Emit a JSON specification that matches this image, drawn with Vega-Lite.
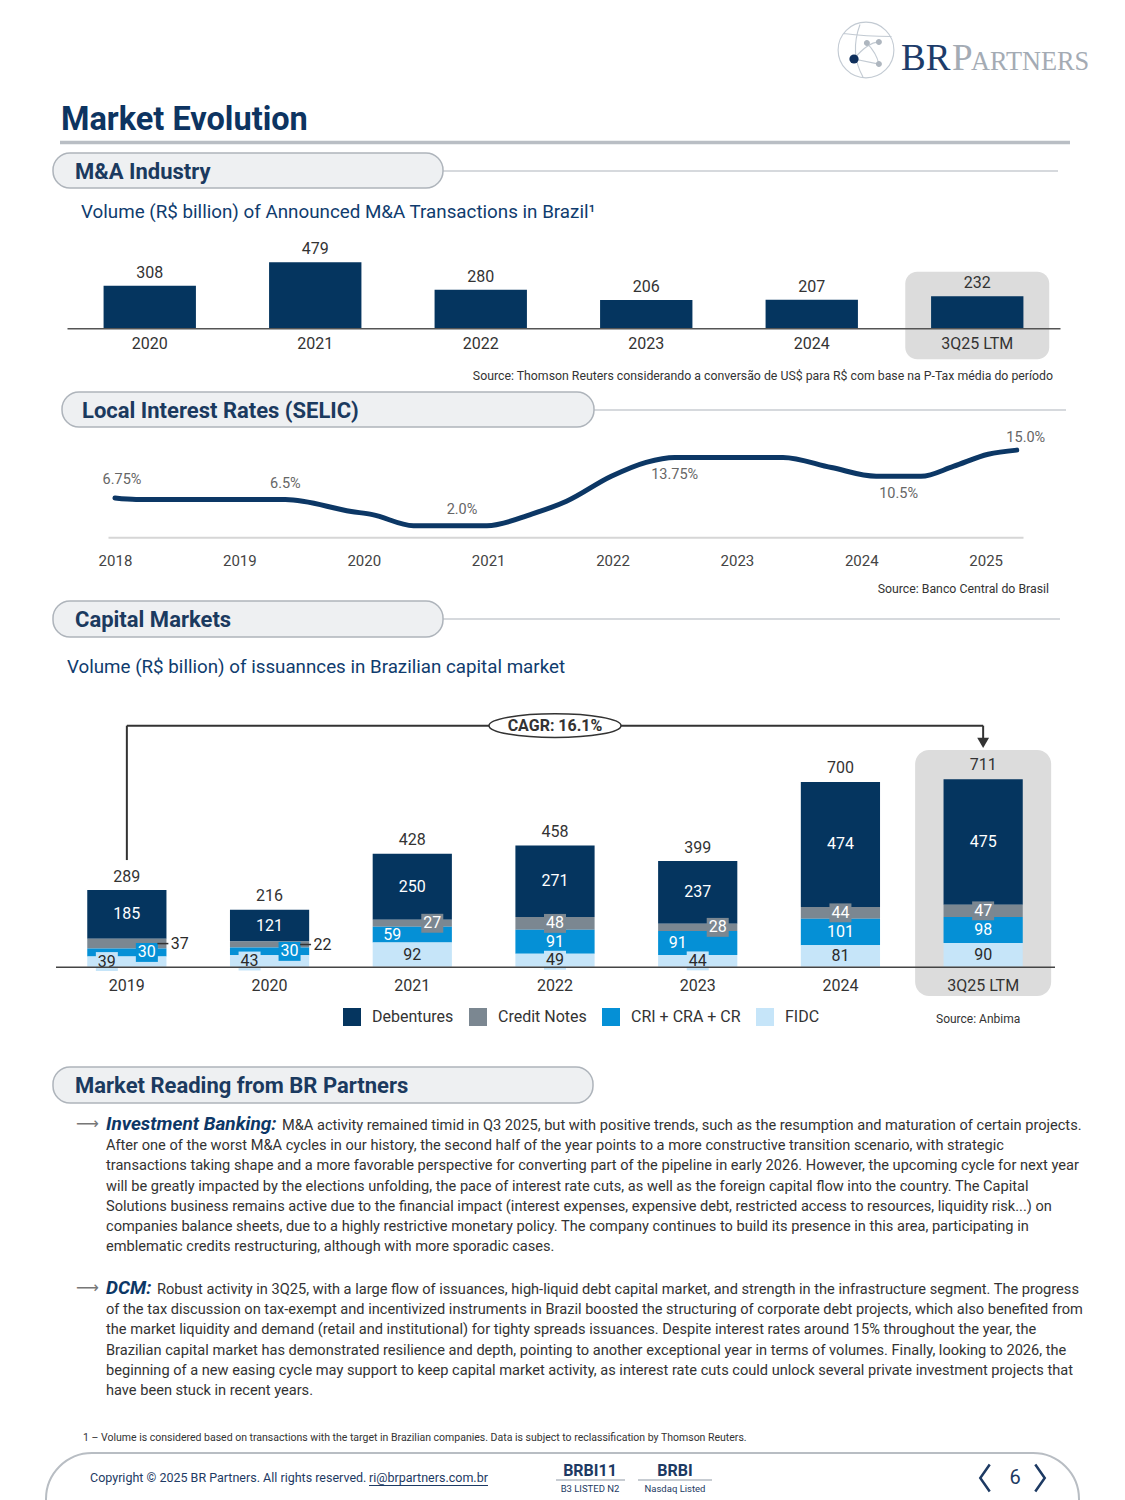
{
  "$schema": "https://vega.github.io/schema/vega-lite/v6.json",
  "width": 1125,
  "height": 1500,
  "autosize": {"type": "none"},
  "padding": 0,
  "background": "#ffffff",
  "config": {
    "view": {"stroke": null},
    "font": "Roboto",
    "text": {"font": "Roboto"},
    "axis": {"labelFont": "Roboto"},
    "legend": {"labelFont": "Roboto"}
  },
  "datasets": {
    "ma": [
      {"period": "2020", "volume": 308},
      {"period": "2021", "volume": 479},
      {"period": "2022", "volume": 280},
      {"period": "2023", "volume": 206},
      {"period": "2024", "volume": 207},
      {"period": "3Q25 LTM", "volume": 232}
    ],
    "selic": [
      {"year": 2018.0, "rate": 6.75, "label": "6.75%"},
      {"year": 2018.17, "rate": 6.5},
      {"year": 2019.37, "rate": 6.5, "label": "6.5%"},
      {"year": 2019.9, "rate": 4.45},
      {"year": 2020.07, "rate": 3.9},
      {"year": 2020.4, "rate": 2.0},
      {"year": 2020.79, "rate": 2.0, "label": "2.0%"},
      {"year": 2020.99, "rate": 2.0},
      {"year": 2021.35, "rate": 4.0},
      {"year": 2021.63, "rate": 6.2},
      {"year": 2021.99, "rate": 10.5},
      {"year": 2022.27, "rate": 12.9},
      {"year": 2022.5, "rate": 13.75, "label": "13.75%"},
      {"year": 2023.37, "rate": 13.75},
      {"year": 2023.76, "rate": 12.0},
      {"year": 2024.12, "rate": 10.5},
      {"year": 2024.3, "rate": 10.5, "label": "10.5%"},
      {"year": 2024.48, "rate": 10.5},
      {"year": 2024.74, "rate": 12.2},
      {"year": 2025.02, "rate": 14.3},
      {"year": 2025.25, "rate": 15.0, "label": "15.0%"}
    ],
    "series": [
      {"type": "FIDC", "rank": 0},
      {"type": "CRI + CRA + CR", "rank": 1},
      {"type": "Credit Notes", "rank": 2},
      {"type": "Debentures", "rank": 3}
    ],
    "cap": [
      {"period": "2019", "type": "Debentures", "value": 185},
      {"period": "2019", "type": "Credit Notes", "value": 37},
      {"period": "2019", "type": "CRI + CRA + CR", "value": 30},
      {"period": "2019", "type": "FIDC", "value": 39},
      {"period": "2020", "type": "Debentures", "value": 121},
      {"period": "2020", "type": "Credit Notes", "value": 22},
      {"period": "2020", "type": "CRI + CRA + CR", "value": 30},
      {"period": "2020", "type": "FIDC", "value": 43},
      {"period": "2021", "type": "Debentures", "value": 250},
      {"period": "2021", "type": "Credit Notes", "value": 27},
      {"period": "2021", "type": "CRI + CRA + CR", "value": 59},
      {"period": "2021", "type": "FIDC", "value": 92},
      {"period": "2022", "type": "Debentures", "value": 271},
      {"period": "2022", "type": "Credit Notes", "value": 48},
      {"period": "2022", "type": "CRI + CRA + CR", "value": 91},
      {"period": "2022", "type": "FIDC", "value": 49},
      {"period": "2023", "type": "Debentures", "value": 237},
      {"period": "2023", "type": "Credit Notes", "value": 28},
      {"period": "2023", "type": "CRI + CRA + CR", "value": 91},
      {"period": "2023", "type": "FIDC", "value": 44},
      {"period": "2024", "type": "Debentures", "value": 474},
      {"period": "2024", "type": "Credit Notes", "value": 44},
      {"period": "2024", "type": "CRI + CRA + CR", "value": 101},
      {"period": "2024", "type": "FIDC", "value": 81},
      {"period": "3Q25 LTM", "type": "Debentures", "value": 475},
      {"period": "3Q25 LTM", "type": "Credit Notes", "value": 47},
      {"period": "3Q25 LTM", "type": "CRI + CRA + CR", "value": 98},
      {"period": "3Q25 LTM", "type": "FIDC", "value": 90}
    ],
    "capTotals": [
      {"period": "2019", "total": 289},
      {"period": "2020", "total": 216},
      {"period": "2021", "total": 428},
      {"period": "2022", "total": 458},
      {"period": "2023", "total": 399},
      {"period": "2024", "total": 700},
      {"period": "3Q25 LTM", "total": 711}
    ],
    "notes": [
      {"block": "ib", "line": 1, "text": "M&A activity remained timid in Q3 2025, but with positive trends, such as the resumption and maturation of certain projects."},
      {"block": "ib", "line": 2, "text": "After one of the worst M&A cycles in our history, the second half of the year points to a more constructive transition scenario, with strategic"},
      {"block": "ib", "line": 3, "text": "transactions taking shape and a more favorable perspective for converting part of the pipeline in early 2026. However, the upcoming cycle for next year"},
      {"block": "ib", "line": 4, "text": "will be greatly impacted by the elections unfolding, the pace of interest rate cuts, as well as the foreign capital flow into the country. The Capital"},
      {"block": "ib", "line": 5, "text": "Solutions business remains active due to the financial impact (interest expenses, expensive debt, restricted access to resources, liquidity risk...) on"},
      {"block": "ib", "line": 6, "text": "companies balance sheets, due to a highly restrictive monetary policy. The company continues to build its presence in this area, participating in"},
      {"block": "ib", "line": 7, "text": "emblematic credits restructuring, although with more sporadic cases."},
      {"block": "dcm", "line": 1, "text": "Robust activity in 3Q25, with a large flow of issuances, high-liquid debt capital market, and strength in the infrastructure segment. The progress"},
      {"block": "dcm", "line": 2, "text": "of the tax discussion on tax-exempt and incentivized instruments in Brazil boosted the structuring of corporate debt projects, which also benefited from"},
      {"block": "dcm", "line": 3, "text": "the market liquidity and demand (retail and institutional) for tighty spreads issuances. Despite interest rates around 15% throughout the year, the"},
      {"block": "dcm", "line": 4, "text": "Brazilian capital market has demonstrated resilience and depth, pointing to another exceptional year in terms of volumes. Finally, looking to 2026, the"},
      {"block": "dcm", "line": 5, "text": "beginning of a new easing cycle may support to keep capital market activity, as interest rate cuts could unlock several private investment projects that"},
      {"block": "dcm", "line": 6, "text": "have been stuck in recent years."}
    ],
    "leads": [
      {"block": "ib", "line": 1, "text": "Investment Banking:"},
      {"block": "dcm", "line": 1, "text": "DCM:"}
    ]
  },
  "resolve": {"scale": {"x": "independent", "y": "independent", "color": "independent"}},
  "layer": [
    {
      "data": {"values": [{"text": "Market Evolution"}]},
      "layer": [
        {"mark": {"type": "rule", "color": "#b9bec4", "strokeWidth": 3.5},
         "encoding": {"x": {"value": 60}, "x2": {"value": 1070}, "y": {"value": 142.5}}},
        {"mark": {"type": "text", "align": "left", "baseline": "alphabetic", "fontSize": 32.5, "fontWeight": "bold", "color": "#0d3461"},
         "encoding": {"x": {"value": 61}, "y": {"value": 130}, "text": {"field": "text"}}}
      ]
    },
    {
      "data": {"values": [{"br": "BR", "p": "P", "rest": "ARTNERS"}]},
      "layer": [
        {"mark": {"type": "point", "shape": "M -0.93 0 A 0.93 0.93 0 1 1 0.93 0 A 0.93 0.93 0 1 1 -0.93 0 M -0.75 -0.55 Q 0 -0.45 0.85 -0.45 M -0.4 0.3 Q 0.05 -0.25 0.43 -0.27 M 0.03 -0.23 Q 0.35 0.1 0.43 0.47 M -0.4 0.3 L 0.43 0.47 M -0.2 -0.85 Q -0.55 0.1 -0.1 0.9", "size": 3600, "filled": false, "stroke": "#a9b4c0", "strokeWidth": 1.1},
         "encoding": {"x": {"value": 866}, "y": {"value": 50}}},
        {"mark": {"type": "point", "shape": "M 0.13 -0.23 A 0.1 0.1 0 1 1 -0.07 -0.23 A 0.1 0.1 0 1 1 0.13 -0.23 Z M 0.53 -0.27 A 0.1 0.1 0 1 1 0.33 -0.27 A 0.1 0.1 0 1 1 0.53 -0.27 Z M 0.53 0.47 A 0.1 0.1 0 1 1 0.33 0.47 A 0.1 0.1 0 1 1 0.53 0.47 Z", "size": 3600, "filled": true, "fill": "#aeb6bf", "opacity": 1},
         "encoding": {"x": {"value": 866}, "y": {"value": 50}}},
        {"mark": {"type": "point", "shape": "circle", "size": 85, "filled": true, "fill": "#0f2f5c", "opacity": 1},
         "encoding": {"x": {"value": 854}, "y": {"value": 59}}},
        {"mark": {"type": "text", "align": "left", "baseline": "alphabetic", "font": "Liberation Serif", "fontSize": 37, "color": "#1d3c6a"},
         "encoding": {"x": {"value": 901}, "y": {"value": 70}, "text": {"field": "br"}}},
        {"mark": {"type": "text", "align": "left", "baseline": "alphabetic", "font": "Liberation Serif", "fontSize": 37, "color": "#a4abb4"},
         "encoding": {"x": {"value": 952}, "y": {"value": 70}, "text": {"field": "p"}}},
        {"mark": {"type": "text", "align": "left", "baseline": "alphabetic", "font": "Liberation Serif", "fontSize": 26.3, "color": "#a4abb4"},
         "encoding": {"x": {"value": 971}, "y": {"value": 70}, "text": {"field": "rest"}}}
      ]
    },
    {
      "data": {"values": [{"text": "M&A Industry"}]},
      "layer": [
        {"mark": {"type": "rule", "color": "#c9cdd2", "strokeWidth": 1.5},
         "encoding": {"x": {"value": 443}, "x2": {"value": 1058}, "y": {"value": 171}}},
        {"mark": {"type": "rect", "fill": "#eef0f2", "stroke": "#aeb4bb", "strokeWidth": 1.5, "cornerRadius": 17},
         "encoding": {"x": {"value": 53}, "x2": {"value": 443}, "y": {"value": 153}, "y2": {"value": 188}}},
        {"mark": {"type": "text", "align": "left", "baseline": "alphabetic", "fontSize": 22, "fontWeight": "bold", "color": "#1b3a5f"},
         "encoding": {"x": {"value": 75}, "y": {"value": 178.5}, "text": {"field": "text"}}}
      ]
    },
    {
      "data": {"values": [{"text": "Local Interest Rates (SELIC)"}]},
      "layer": [
        {"mark": {"type": "rule", "color": "#c9cdd2", "strokeWidth": 1.5},
         "encoding": {"x": {"value": 594}, "x2": {"value": 1066}, "y": {"value": 410}}},
        {"mark": {"type": "rect", "fill": "#eef0f2", "stroke": "#aeb4bb", "strokeWidth": 1.5, "cornerRadius": 17},
         "encoding": {"x": {"value": 62}, "x2": {"value": 594}, "y": {"value": 392}, "y2": {"value": 427}}},
        {"mark": {"type": "text", "align": "left", "baseline": "alphabetic", "fontSize": 22, "fontWeight": "bold", "color": "#1b3a5f"},
         "encoding": {"x": {"value": 82}, "y": {"value": 417.5}, "text": {"field": "text"}}}
      ]
    },
    {
      "data": {"values": [{"text": "Capital Markets"}]},
      "layer": [
        {"mark": {"type": "rule", "color": "#c9cdd2", "strokeWidth": 1.5},
         "encoding": {"x": {"value": 443}, "x2": {"value": 1060}, "y": {"value": 619}}},
        {"mark": {"type": "rect", "fill": "#eef0f2", "stroke": "#aeb4bb", "strokeWidth": 1.5, "cornerRadius": 17},
         "encoding": {"x": {"value": 53}, "x2": {"value": 443}, "y": {"value": 601}, "y2": {"value": 637}}},
        {"mark": {"type": "text", "align": "left", "baseline": "alphabetic", "fontSize": 22, "fontWeight": "bold", "color": "#1b3a5f"},
         "encoding": {"x": {"value": 75}, "y": {"value": 626.5}, "text": {"field": "text"}}}
      ]
    },
    {
      "data": {"values": [{"text": "Market Reading from BR Partners"}]},
      "layer": [
        {"mark": {"type": "rect", "fill": "#eef0f2", "stroke": "#aeb4bb", "strokeWidth": 1.5, "cornerRadius": 17},
         "encoding": {"x": {"value": 53}, "x2": {"value": 593}, "y": {"value": 1067}, "y2": {"value": 1103}}},
        {"mark": {"type": "text", "align": "left", "baseline": "alphabetic", "fontSize": 22, "fontWeight": "bold", "color": "#1b3a5f"},
         "encoding": {"x": {"value": 75}, "y": {"value": 1092.5}, "text": {"field": "text"}}}
      ]
    },
    {
      "data": {"values": [{"sub": "Volume (R$ billion) of Announced M&A Transactions in Brazil¹", "src": "Source: Thomson Reuters considerando a conversão de US$ para R$ com base na P-Tax média do período"}]},
      "layer": [
        {"mark": {"type": "text", "align": "left", "baseline": "middle", "fontSize": 18.8, "color": "#0f3c6e"},
         "encoding": {"x": {"value": 81}, "y": {"value": 212}, "text": {"field": "sub"}}},
        {"mark": {"type": "text", "align": "right", "baseline": "middle", "fontSize": 12.3, "color": "#333333"},
         "encoding": {"x": {"value": 1053}, "y": {"value": 376}, "text": {"field": "src"}}}
      ]
    },
    {
      "data": {"name": "ma"},
      "encoding": {
        "x": {"field": "period", "type": "nominal", "sort": null,
              "scale": {"domain": ["2020", "2021", "2022", "2023", "2024", "3Q25 LTM"], "range": [67, 1060], "paddingInner": 0, "paddingOuter": 0},
              "axis": {"orient": "bottom", "offset": -1171.7, "title": null, "domainColor": "#555555", "domainWidth": 1.5, "ticks": false, "labelAngle": 0, "labelFontSize": 16, "labelColor": "#333333", "labelPadding": 7, "zindex": 1}}
      },
      "layer": [
        {"transform": [{"filter": "datum.period == '3Q25 LTM'"}],
         "mark": {"type": "bar", "color": "#dcdcdc", "cornerRadius": 12, "width": {"band": 0.87}},
         "encoding": {"y": {"datum": 410, "type": "quantitative", "scale": {"domain": [0, 580], "range": [328.3, 248.3]}, "axis": null}, "y2": {"datum": -225}}},
        {"mark": {"type": "bar", "color": "#05355f", "width": {"band": 0.558}},
         "encoding": {"y": {"field": "volume", "type": "quantitative", "scale": {"domain": [0, 580], "range": [328.3, 248.3]}, "axis": null}}},
        {"mark": {"type": "text", "baseline": "middle", "dy": -13, "fontSize": 16, "color": "#333333"},
         "encoding": {"y": {"field": "volume", "type": "quantitative", "scale": {"domain": [0, 580], "range": [328.3, 248.3]}, "axis": null}, "text": {"field": "volume", "type": "quantitative"}}}
      ]
    },
    {
      "data": {"values": [{"src": "Source: Banco Central do Brasil"}]},
      "mark": {"type": "text", "align": "right", "baseline": "middle", "fontSize": 12.3, "color": "#333333"},
      "encoding": {"x": {"value": 1049}, "y": {"value": 589}, "text": {"field": "src"}}
    },
    {
      "data": {"name": "selic"},
      "encoding": {
        "x": {"field": "year", "type": "quantitative",
              "scale": {"domain": [2017.944, 2025.3], "range": [108, 1023], "nice": false, "zero": false},
              "axis": {"orient": "bottom", "offset": -962.7, "title": null, "values": [2018, 2019, 2020, 2021, 2022, 2023, 2024, 2025], "format": "d", "domainColor": "#d6d6d6", "domainWidth": 2, "ticks": false, "grid": false, "labelFontSize": 15, "labelColor": "#444444", "labelPadding": 16, "zindex": 1}},
        "y": {"field": "rate", "type": "quantitative", "scale": {"domain": [0, 18], "range": [537.3, 432.7], "nice": false}, "axis": null}
      },
      "layer": [
        {"mark": {"type": "line", "color": "#0c3765", "strokeWidth": 5, "interpolate": "monotone", "strokeCap": "round"}},
        {"transform": [{"filter": "datum.label == '6.5%' || datum.label == '2.0%'"}],
         "mark": {"type": "text", "baseline": "middle", "dy": -16, "fontSize": 14.5, "color": "#666666"},
         "encoding": {"text": {"field": "label"}}},
        {"transform": [{"filter": "datum.label == '13.75%' || datum.label == '10.5%'"}],
         "mark": {"type": "text", "baseline": "middle", "dy": 18, "fontSize": 14.5, "color": "#666666"},
         "encoding": {"text": {"field": "label"}}},
        {"transform": [{"filter": "datum.label == '6.75%'"}],
         "mark": {"type": "text", "baseline": "middle", "dx": 7, "dy": -18, "fontSize": 14.5, "color": "#666666"},
         "encoding": {"text": {"field": "label"}}},
        {"transform": [{"filter": "datum.label == '15.0%'"}],
         "mark": {"type": "text", "baseline": "middle", "dx": 9, "dy": -12, "fontSize": 14.5, "color": "#666666"},
         "encoding": {"text": {"field": "label"}}}
      ]
    },
    {
      "data": {"values": [{"sub": "Volume (R$ billion) of issuannces in Brazilian capital market", "src": "Source: Anbima"}]},
      "layer": [
        {"mark": {"type": "text", "align": "left", "baseline": "middle", "fontSize": 18.75, "color": "#0f3c6e"},
         "encoding": {"x": {"value": 67}, "y": {"value": 667}, "text": {"field": "sub"}}},
        {"mark": {"type": "text", "align": "left", "baseline": "middle", "fontSize": 12, "color": "#333333"},
         "encoding": {"x": {"value": 936}, "y": {"value": 1019}, "text": {"field": "src"}}}
      ]
    },
    {
      "data": {"name": "cap"},
      "transform": [{"lookup": "type", "from": {"data": {"name": "series"}, "key": "type", "fields": ["rank"]}}],
      "encoding": {
        "x": {"field": "period", "type": "nominal", "sort": null,
              "scale": {"domain": ["2019", "2020", "2021", "2022", "2023", "2024", "3Q25 LTM"], "range": [55.5, 1054.5], "paddingInner": 0, "paddingOuter": 0},
              "axis": {"orient": "bottom", "offset": -533.3, "title": null, "domainColor": "#444444", "domainWidth": 1.5, "ticks": false, "labelAngle": 0, "labelFontSize": 16, "labelColor": "#333333", "labelPadding": 10.5, "zindex": 1}}
      },
      "resolve": {"scale": {"color": "independent"}, "legend": {"color": "independent"}},
      "layer": [
        {"data": {"name": "capTotals"},
         "transform": [{"filter": "datum.period == '3Q25 LTM'"}],
         "mark": {"type": "bar", "color": "#dcdcdc", "cornerRadius": 14, "width": {"band": 0.953}},
         "encoding": {"y": {"datum": 821, "type": "quantitative", "scale": {"domain": [0, 800], "range": [966.7, 755.5]}, "axis": null}, "y2": {"datum": -111}}},
        {"mark": {"type": "bar", "width": {"band": 0.555}},
         "encoding": {
           "y": {"field": "value", "type": "quantitative", "stack": "zero", "scale": {"domain": [0, 800], "range": [966.7, 755.5]}, "axis": null},
           "order": {"field": "rank", "type": "quantitative", "sort": "ascending"},
           "color": {"field": "type", "type": "nominal", "sort": ["Debentures", "Credit Notes", "CRI + CRA + CR", "FIDC"],
                     "scale": {"domain": ["Debentures", "Credit Notes", "CRI + CRA + CR", "FIDC"], "range": ["#05355f", "#7b8791", "#0590d6", "#c6e5f9"]},
                     "legend": {"orient": "none", "legendX": 343, "legendY": 1008, "direction": "horizontal", "title": null, "symbolType": "square", "symbolSize": 324, "symbolStrokeWidth": 0, "symbolOpacity": 1, "labelFontSize": 16, "labelColor": "#333333", "labelOffset": 11, "columnPadding": 15, "padding": 0}}
         }},
        {"mark": {"type": "point", "shape": "M -1 -0.86 L 1 -0.86 L 1 0.86 L -1 0.86 Z", "size": 484, "filled": true, "xOffset": -20},
         "encoding": {
           "y": {"field": "value", "type": "quantitative", "stack": "zero", "bandPosition": 0.5, "scale": {"domain": [0, 800], "range": [966.7, 755.5]}, "axis": null},
           "order": {"field": "rank", "type": "quantitative", "sort": "ascending"},
           "color": {"field": "type", "type": "nominal", "sort": ["Debentures", "Credit Notes", "CRI + CRA + CR", "FIDC"], "scale": {"domain": ["Debentures", "Credit Notes", "CRI + CRA + CR", "FIDC"], "range": ["#05355f", "#7b8791", "#0590d6", "#c6e5f9"]}, "legend": null},
           "opacity": {"condition": {"test": "datum.type == 'FIDC' && (datum.period == '2019' || datum.period == '2020')", "value": 1}, "value": 0}
         }},
        {"mark": {"type": "point", "shape": "M -1 -0.86 L 1 -0.86 L 1 0.86 L -1 0.86 Z", "size": 484, "filled": true, "xOffset": 20},
         "encoding": {
           "y": {"field": "value", "type": "quantitative", "stack": "zero", "bandPosition": 0.5, "scale": {"domain": [0, 800], "range": [966.7, 755.5]}, "axis": null},
           "order": {"field": "rank", "type": "quantitative", "sort": "ascending"},
           "color": {"field": "type", "type": "nominal", "sort": ["Debentures", "Credit Notes", "CRI + CRA + CR", "FIDC"], "scale": {"domain": ["Debentures", "Credit Notes", "CRI + CRA + CR", "FIDC"], "range": ["#05355f", "#7b8791", "#0590d6", "#c6e5f9"]}, "legend": null},
           "opacity": {"condition": {"test": "(datum.type == 'CRI + CRA + CR' && (datum.period == '2019' || datum.period == '2020')) || (datum.type == 'Credit Notes' && (datum.period == '2021' || datum.period == '2023'))", "value": 1}, "value": 0}
         }},
        {"mark": {"type": "point", "shape": "M -1 -0.86 L 1 -0.86 L 1 0.86 L -1 0.86 Z", "size": 484, "filled": true},
         "encoding": {
           "y": {"field": "value", "type": "quantitative", "stack": "zero", "bandPosition": 0.5, "scale": {"domain": [0, 800], "range": [966.7, 755.5]}, "axis": null},
           "order": {"field": "rank", "type": "quantitative", "sort": "ascending"},
           "color": {"field": "type", "type": "nominal", "sort": ["Debentures", "Credit Notes", "CRI + CRA + CR", "FIDC"], "scale": {"domain": ["Debentures", "Credit Notes", "CRI + CRA + CR", "FIDC"], "range": ["#05355f", "#7b8791", "#0590d6", "#c6e5f9"]}, "legend": null},
           "opacity": {"condition": {"test": "(datum.type == 'Credit Notes' && (datum.period == '2022' || datum.period == '2024' || datum.period == '3Q25 LTM')) || (datum.type == 'FIDC' && (datum.period == '2022' || datum.period == '2023'))", "value": 1}, "value": 0}
         }},
        {"mark": {"type": "point", "shape": "M -1 0 L 1 0", "size": 121, "filled": false, "strokeWidth": 1.5, "xOffset": 36},
         "encoding": {
           "y": {"field": "value", "type": "quantitative", "stack": "zero", "bandPosition": 0.5, "scale": {"domain": [0, 800], "range": [966.7, 755.5]}, "axis": null},
           "order": {"field": "rank", "type": "quantitative", "sort": "ascending"},
           "color": {"field": "type", "type": "nominal", "sort": ["Debentures", "Credit Notes", "CRI + CRA + CR", "FIDC"], "scale": {"domain": ["Debentures", "Credit Notes", "CRI + CRA + CR", "FIDC"], "range": ["#333333", "#333333", "#333333", "#333333"]}, "legend": null},
           "opacity": {"condition": {"test": "datum.type == 'Credit Notes' && (datum.period == '2019' || datum.period == '2020')", "value": 1}, "value": 0}
         }},
        {"mark": {"type": "text", "baseline": "middle", "fontSize": 16},
         "encoding": {
           "y": {"field": "value", "type": "quantitative", "stack": "zero", "bandPosition": 0.5, "scale": {"domain": [0, 800], "range": [966.7, 755.5]}, "axis": null},
           "order": {"field": "rank", "type": "quantitative", "sort": "ascending"},
           "color": {"field": "type", "type": "nominal", "sort": ["Debentures", "Credit Notes", "CRI + CRA + CR", "FIDC"], "scale": {"domain": ["Debentures", "Credit Notes", "CRI + CRA + CR", "FIDC"], "range": ["#ffffff", "#ffffff", "#ffffff", "#2a2a2a"]}, "legend": null},
           "text": {"condition": {"test": "!((datum.type == 'FIDC' && (datum.period == '2019' || datum.period == '2020')) || (datum.type == 'CRI + CRA + CR' && (datum.period == '2021' || datum.period == '2023')) || (datum.type == 'CRI + CRA + CR' && (datum.period == '2019' || datum.period == '2020')) || (datum.type == 'Credit Notes' && (datum.period == '2019' || datum.period == '2020' || datum.period == '2021' || datum.period == '2023')))", "field": "value", "type": "quantitative"}, "value": ""}
         }},
        {"mark": {"type": "text", "baseline": "middle", "fontSize": 16, "dx": -20},
         "encoding": {
           "y": {"field": "value", "type": "quantitative", "stack": "zero", "bandPosition": 0.5, "scale": {"domain": [0, 800], "range": [966.7, 755.5]}, "axis": null},
           "order": {"field": "rank", "type": "quantitative", "sort": "ascending"},
           "color": {"field": "type", "type": "nominal", "sort": ["Debentures", "Credit Notes", "CRI + CRA + CR", "FIDC"], "scale": {"domain": ["Debentures", "Credit Notes", "CRI + CRA + CR", "FIDC"], "range": ["#ffffff", "#ffffff", "#ffffff", "#2a2a2a"]}, "legend": null},
           "text": {"condition": {"test": "(datum.type == 'FIDC' && (datum.period == '2019' || datum.period == '2020')) || (datum.type == 'CRI + CRA + CR' && (datum.period == '2021' || datum.period == '2023'))", "field": "value", "type": "quantitative"}, "value": ""}
         }},
        {"mark": {"type": "text", "baseline": "middle", "fontSize": 16, "dx": 20},
         "encoding": {
           "y": {"field": "value", "type": "quantitative", "stack": "zero", "bandPosition": 0.5, "scale": {"domain": [0, 800], "range": [966.7, 755.5]}, "axis": null},
           "order": {"field": "rank", "type": "quantitative", "sort": "ascending"},
           "color": {"field": "type", "type": "nominal", "sort": ["Debentures", "Credit Notes", "CRI + CRA + CR", "FIDC"], "scale": {"domain": ["Debentures", "Credit Notes", "CRI + CRA + CR", "FIDC"], "range": ["#ffffff", "#ffffff", "#ffffff", "#2a2a2a"]}, "legend": null},
           "text": {"condition": {"test": "(datum.type == 'CRI + CRA + CR' && (datum.period == '2019' || datum.period == '2020')) || (datum.type == 'Credit Notes' && (datum.period == '2021' || datum.period == '2023'))", "field": "value", "type": "quantitative"}, "value": ""}
         }},
        {"mark": {"type": "text", "baseline": "middle", "fontSize": 16, "dx": 53},
         "encoding": {
           "y": {"field": "value", "type": "quantitative", "stack": "zero", "bandPosition": 0.5, "scale": {"domain": [0, 800], "range": [966.7, 755.5]}, "axis": null},
           "order": {"field": "rank", "type": "quantitative", "sort": "ascending"},
           "color": {"field": "type", "type": "nominal", "sort": ["Debentures", "Credit Notes", "CRI + CRA + CR", "FIDC"], "scale": {"domain": ["Debentures", "Credit Notes", "CRI + CRA + CR", "FIDC"], "range": ["#2a2a2a", "#2a2a2a", "#2a2a2a", "#2a2a2a"]}, "legend": null},
           "text": {"condition": {"test": "datum.type == 'Credit Notes' && (datum.period == '2019' || datum.period == '2020')", "field": "value", "type": "quantitative"}, "value": ""}
         }},
        {"data": {"name": "capTotals"},
         "mark": {"type": "text", "baseline": "middle", "dy": -13.5, "fontSize": 16, "color": "#333333"},
         "encoding": {"y": {"field": "total", "type": "quantitative", "scale": {"domain": [0, 800], "range": [966.7, 755.5]}, "axis": null}, "text": {"field": "total", "type": "quantitative"}}},
        {"data": {"name": "capTotals"},
         "transform": [{"filter": "datum.period == '2019'"}],
         "mark": {"type": "rule", "color": "#333333", "strokeWidth": 2},
         "encoding": {"y": {"datum": 913, "type": "quantitative", "scale": {"domain": [0, 800], "range": [966.7, 755.5]}, "axis": null}, "y2": {"datum": 404}}},
        {"data": {"name": "capTotals"},
         "transform": [{"filter": "datum.period == '2019'"}],
         "mark": {"type": "rule", "color": "#333333", "strokeWidth": 2},
         "encoding": {"x2": {"datum": "3Q25 LTM"}, "y": {"datum": 913, "type": "quantitative", "scale": {"domain": [0, 800], "range": [966.7, 755.5]}, "axis": null}}},
        {"data": {"name": "capTotals"},
         "transform": [{"filter": "datum.period == '3Q25 LTM'"}],
         "mark": {"type": "rule", "color": "#333333", "strokeWidth": 2},
         "encoding": {"y": {"datum": 913, "type": "quantitative", "scale": {"domain": [0, 800], "range": [966.7, 755.5]}, "axis": null}, "y2": {"datum": 852}}},
        {"data": {"name": "capTotals"},
         "transform": [{"filter": "datum.period == '3Q25 LTM'"}],
         "mark": {"type": "point", "shape": "triangle-down", "size": 140, "filled": true, "color": "#333333", "opacity": 1},
         "encoding": {"y": {"datum": 848, "type": "quantitative", "scale": {"domain": [0, 800], "range": [966.7, 755.5]}, "axis": null}}},
        {"data": {"name": "capTotals"},
         "transform": [{"filter": "datum.period == '2022'"}],
         "mark": {"type": "point", "shape": "M -1 0 A 1 0.18 0 1 1 1 0 A 1 0.18 0 1 1 -1 0 Z", "size": 17424, "filled": true, "fill": "#ffffff", "stroke": "#333333", "strokeWidth": 1.5, "opacity": 1},
         "encoding": {"y": {"datum": 913, "type": "quantitative", "scale": {"domain": [0, 800], "range": [966.7, 755.5]}, "axis": null}}},
        {"data": {"name": "capTotals"},
         "transform": [{"filter": "datum.period == '2022'"}],
         "mark": {"type": "text", "text": "CAGR: 16.1%", "baseline": "middle", "fontSize": 16, "fontWeight": "bold", "color": "#333333"},
         "encoding": {"y": {"datum": 913, "type": "quantitative", "scale": {"domain": [0, 800], "range": [966.7, 755.5]}, "axis": null}}}
      ]
    },
    {
      "data": {"name": "notes"},
      "transform": [{"filter": "datum.block == 'ib'"}],
      "encoding": {"y": {"field": "line", "type": "ordinal", "scale": {"type": "point", "range": [1126, 1247], "padding": 0}, "axis": null}},
      "layer": [
        {"transform": [{"filter": "datum.line > 1"}],
         "mark": {"type": "text", "align": "left", "baseline": "middle", "fontSize": 14.6, "color": "#333333"},
         "encoding": {"x": {"value": 106}, "text": {"field": "text"}}},
        {"transform": [{"filter": "datum.line == 1"}],
         "mark": {"type": "text", "align": "left", "baseline": "middle", "fontSize": 14.6, "color": "#333333"},
         "encoding": {"x": {"value": 282}, "text": {"field": "text"}}},
        {"data": {"name": "leads"},
         "transform": [{"filter": "datum.block == 'ib'"}],
         "mark": {"type": "text", "align": "left", "baseline": "middle", "dy": -2, "fontSize": 19, "fontWeight": "bold", "fontStyle": "italic", "color": "#0d3766"},
         "encoding": {"x": {"value": 106}, "text": {"field": "text"}}},
        {"data": {"name": "leads"},
         "transform": [{"filter": "datum.block == 'ib'"}],
         "mark": {"type": "text", "text": "⟶", "align": "left", "baseline": "middle", "dy": -2, "font": "DejaVu Sans", "fontSize": 16, "color": "#777777"},
         "encoding": {"x": {"value": 76}}}
      ]
    },
    {
      "data": {"name": "notes"},
      "transform": [{"filter": "datum.block == 'dcm'"}],
      "encoding": {"y": {"field": "line", "type": "ordinal", "scale": {"type": "point", "range": [1290, 1391], "padding": 0}, "axis": null}},
      "layer": [
        {"transform": [{"filter": "datum.line > 1"}],
         "mark": {"type": "text", "align": "left", "baseline": "middle", "fontSize": 14.6, "color": "#333333"},
         "encoding": {"x": {"value": 106}, "text": {"field": "text"}}},
        {"transform": [{"filter": "datum.line == 1"}],
         "mark": {"type": "text", "align": "left", "baseline": "middle", "fontSize": 14.6, "color": "#333333"},
         "encoding": {"x": {"value": 157}, "text": {"field": "text"}}},
        {"data": {"name": "leads"},
         "transform": [{"filter": "datum.block == 'dcm'"}],
         "mark": {"type": "text", "align": "left", "baseline": "middle", "dy": -2, "fontSize": 19, "fontWeight": "bold", "fontStyle": "italic", "color": "#0d3766"},
         "encoding": {"x": {"value": 106}, "text": {"field": "text"}}},
        {"data": {"name": "leads"},
         "transform": [{"filter": "datum.block == 'dcm'"}],
         "mark": {"type": "text", "text": "⟶", "align": "left", "baseline": "middle", "dy": -2, "font": "DejaVu Sans", "fontSize": 16, "color": "#777777"},
         "encoding": {"x": {"value": 76}}}
      ]
    },
    {
      "data": {"values": [{"note": "1 – Volume is considered based on transactions with the target in Brazilian companies. Data is subject to reclassification by Thomson Reuters.", "copy": "Copyright © 2025 BR Partners. All rights reserved.", "mail": "ri@brpartners.com.br", "t1": "BRBI11", "s1": "B3 LISTED N2", "t2": "BRBI", "s2": "Nasdaq Listed", "page": "6"}]},
      "layer": [
        {"mark": {"type": "text", "align": "left", "baseline": "middle", "fontSize": 10.5, "color": "#333333"},
         "encoding": {"x": {"value": 83}, "y": {"value": 1438}, "text": {"field": "note"}}},
        {"mark": {"type": "rect", "fill": null, "stroke": "#b8bdc3", "strokeWidth": 2, "cornerRadius": 46},
         "encoding": {"x": {"value": 46}, "x2": {"value": 1079}, "y": {"value": 1453}, "y2": {"value": 1580}}},
        {"mark": {"type": "text", "align": "left", "baseline": "middle", "fontSize": 12.5, "color": "#1d3a63"},
         "encoding": {"x": {"value": 90}, "y": {"value": 1478}, "text": {"field": "copy"}}},
        {"mark": {"type": "text", "align": "left", "baseline": "middle", "fontSize": 12.5, "color": "#1d3a63"},
         "encoding": {"x": {"value": 369}, "y": {"value": 1478}, "text": {"field": "mail"}}},
        {"mark": {"type": "rule", "color": "#1d3a63", "strokeWidth": 1},
         "encoding": {"x": {"value": 369}, "x2": {"value": 488}, "y": {"value": 1485.5}}},
        {"mark": {"type": "text", "align": "center", "baseline": "middle", "fontSize": 16, "fontWeight": "bold", "color": "#1d3a63"},
         "encoding": {"x": {"value": 590}, "y": {"value": 1471}, "text": {"field": "t1"}}},
        {"mark": {"type": "rule", "color": "#8f99a5", "strokeWidth": 1.2},
         "encoding": {"x": {"value": 556}, "x2": {"value": 625}, "y": {"value": 1480}}},
        {"mark": {"type": "text", "align": "center", "baseline": "middle", "fontSize": 9.5, "color": "#1d3a63"},
         "encoding": {"x": {"value": 590}, "y": {"value": 1488.5}, "text": {"field": "s1"}}},
        {"mark": {"type": "text", "align": "center", "baseline": "middle", "fontSize": 16, "fontWeight": "bold", "color": "#1d3a63"},
         "encoding": {"x": {"value": 675}, "y": {"value": 1471}, "text": {"field": "t2"}}},
        {"mark": {"type": "rule", "color": "#8f99a5", "strokeWidth": 1.2},
         "encoding": {"x": {"value": 638}, "x2": {"value": 712}, "y": {"value": 1480}}},
        {"mark": {"type": "text", "align": "center", "baseline": "middle", "fontSize": 9.5, "color": "#1d3a63"},
         "encoding": {"x": {"value": 675}, "y": {"value": 1488.5}, "text": {"field": "s2"}}},
        {"mark": {"type": "point", "shape": "M 0.35 -1 L -0.35 0 L 0.35 1", "size": 729, "filled": false, "stroke": "#1d3a63", "strokeWidth": 2.5, "opacity": 1},
         "encoding": {"x": {"value": 985}, "y": {"value": 1478}}},
        {"mark": {"type": "point", "shape": "M -0.35 -1 L 0.35 0 L -0.35 1", "size": 729, "filled": false, "stroke": "#1d3a63", "strokeWidth": 2.5, "opacity": 1},
         "encoding": {"x": {"value": 1040}, "y": {"value": 1478}}},
        {"mark": {"type": "text", "align": "center", "baseline": "middle", "fontSize": 20, "color": "#1d3a63"},
         "encoding": {"x": {"value": 1015}, "y": {"value": 1478}, "text": {"field": "page"}}}
      ]
    }
  ]
}
